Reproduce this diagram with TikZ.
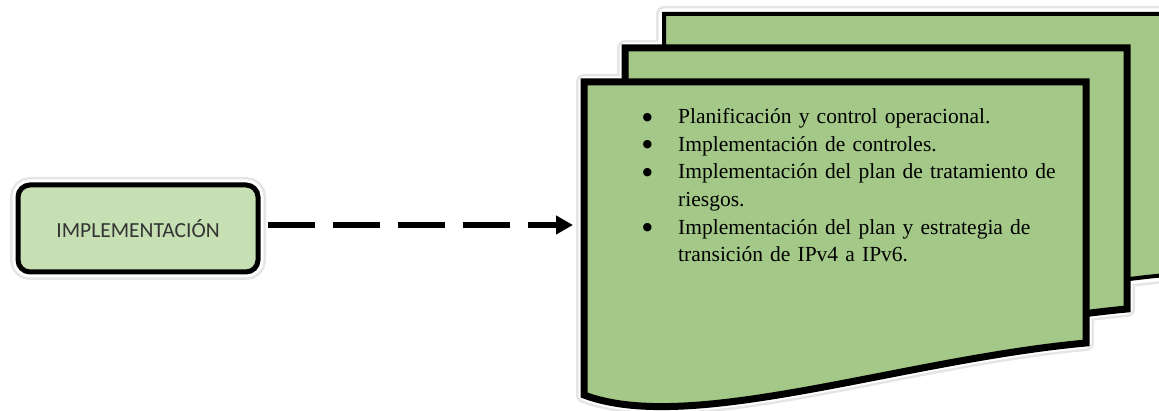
\documentclass[tikz,border=0pt]{standalone}
\usepackage{fontspec}
\setmainfont{Liberation Serif}
\newfontfamily\calibri{Carlito}
\newfontfamily\symboles{DejaVu Sans}
\usepackage{enumitem}
\usetikzlibrary{arrows.meta}
\definecolor{vertpage}{RGB}{164,200,136}
\definecolor{vertboite}{RGB}{198,224,180}

\begin{document}
\begin{tikzpicture}[x=1pt,y=-1pt]
\tikzset{boite/.style={draw, line width=5pt, rounded corners=12pt, fill=vertboite,
    minimum width=240pt, minimum height=87pt, text=black!80,
    font=\calibri\fontsize{21.5}{26}\selectfont,
    preaction={draw=black!10, line width=16pt}, preaction={draw=white, line width=11pt}},
  fleche/.style={line width=6pt, dash pattern=on 47pt off 18pt, -{Triangle[length=17pt,width=18pt]}},
  ombre/.style={draw=black!10, line width=16pt, line join=round},
  halo/.style={draw=white, line width=11pt, line join=round}}
\useasboundingbox (0,0) rectangle (1159,411);
\clip (0,0) rectangle (1159,411);
% halo autour des trois pages
\foreach \dx/\dy in {80/-68, 41/-34, 0/0}
  \draw[ombre, shift={(\dx,\dy)}] (584,82) -- (1086,82) -- (1086,343) .. controls (900,360) and (690,435) .. (584,395) -- cycle;
\foreach \dx/\dy in {80/-68, 41/-34, 0/0}
  \draw[halo, shift={(\dx,\dy)}] (584,82) -- (1086,82) -- (1086,343) .. controls (900,360) and (690,435) .. (584,395) -- cycle;
% les pages
\foreach \dx/\dy/\ep in {80/-68/4, 41/-34/7, 0/0/7}
  \draw[fill=vertpage, line width=\ep pt, shift={(\dx,\dy)}] (584,82) -- (1086,82) -- (1086,343) .. controls (900,360) and (690,435) .. (584,395) -- cycle;
\node[anchor=north west, inner sep=0pt, text width=430pt, align=left,
  font=\fontsize{21.5}{27.6}\selectfont] (liste) at (644,96) {%
\begin{itemize}[nosep, leftmargin=34pt, labelwidth=8pt, labelsep=26pt,
  label={\raisebox{3.5pt}{\symboles\fontsize{11}{11}\selectfont ●}}]
\item Planificación y control operacional.
\item Implementación de controles.
\item Implementación del plan de tratamiento de\newline riesgos.
\item Implementación del plan y estrategia de\newline transición de IPv4 a IPv6.
\end{itemize}};
\node[boite] (impl) at (138,228.5) {IMPLEMENTACIÓN};
\coordinate (entree) at (573,225);
\draw[fleche] ([xshift=7pt,yshift=3.5pt]impl.east) -- (entree);
\end{tikzpicture}
\end{document}
